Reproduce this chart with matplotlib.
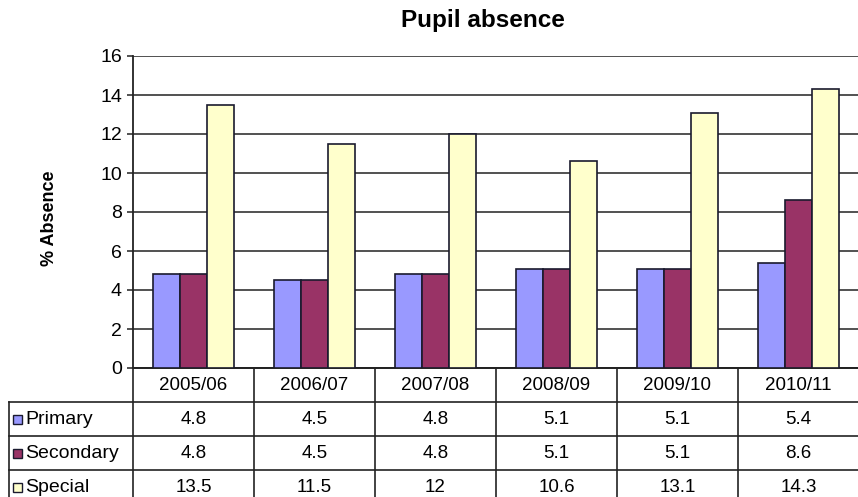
import matplotlib.pyplot as plt
import matplotlib.transforms as mtransforms
from matplotlib.patches import Rectangle
import numpy as np

plt.rcParams["font.family"] = ["Liberation Sans", "DejaVu Sans"]

years = ["2005/06", "2006/07", "2007/08", "2008/09", "2009/10", "2010/11"]
primary = [4.8, 4.5, 4.8, 5.1, 5.1, 5.4]
secondary = [4.8, 4.5, 4.8, 5.1, 5.1, 8.6]
special = [13.5, 11.5, 12, 10.6, 13.1, 14.3]
series_names = ["Primary", "Secondary", "Special"]
colors = ["#9999FF", "#993366", "#FFFFCC"]

W, H = 858, 497
fig = plt.figure(figsize=(W / 100, H / 100), dpi=100)
ax = fig.add_axes([133 / W, 1 - 368 / H, 726 / W, 312 / H])

x = np.arange(len(years))
bw = 0.223
for i, (vals, c) in enumerate(zip([primary, secondary, special], colors)):
    ax.bar(x + (i - 1) * bw, vals, bw, color=c, edgecolor="#1a1a2e",
           linewidth=1.2, zorder=3)

ax.set_xlim(-0.5, 5.5)
ax.set_ylim(0, 16)
ax.set_yticks(range(0, 17, 2))
ax.set_xticks([])
ax.yaxis.grid(True, color="#222222", linewidth=1.1, zorder=0)
ax.tick_params(axis="y", labelsize=14, length=4, width=1.1, color="#222222", pad=4)
for s in ["top", "right"]:
    ax.spines[s].set_visible(False)
for s in ["left", "bottom"]:
    ax.spines[s].set_linewidth(1.3)
    ax.spines[s].set_color("#222222")

fig.text(483 / W, 1 - 21 / H, "Pupil absence", ha="center", va="center",
         fontsize=17.5, fontweight="bold")
fig.text(50 / W, 1 - 218 / H, "% Absence", ha="center", va="center",
         rotation=90, fontsize=13, fontweight="bold")

# data table under the plot
trans = mtransforms.blended_transform_factory(ax.transData, ax.transAxes)
row_h = 34 / 312
left_x = -0.5 - 124 / 121
line_kw = dict(color="#222222", linewidth=1.2, transform=trans, clip_on=False)

ax.plot([-0.5, 5.6], [0, 0], **line_kw)
for r in range(1, 5):
    ax.plot([left_x, 5.6], [-r * row_h, -r * row_h], **line_kw)
ax.plot([left_x, left_x], [-row_h, -4 * row_h], **line_kw)
for k in range(len(years)):
    ax.plot([k - 0.5, k - 0.5], [0, -4 * row_h], **line_kw)

for k, yr in enumerate(years):
    ax.text(k, -0.5 * row_h, yr, ha="center", va="center", fontsize=13.5,
            transform=trans, clip_on=False)

for r, (name, vals, c) in enumerate(zip(series_names,
                                        [primary, secondary, special], colors)):
    yc = -(r + 1.5) * row_h
    ax.add_patch(Rectangle((left_x + 4 / 121, yc - 4.5 / 312), 9 / 121, 9 / 312,
                           facecolor=c, edgecolor="#1a1a2e", linewidth=1.0,
                           transform=trans, clip_on=False))
    ax.text(left_x + 16 / 121, yc, name, ha="left", va="center", fontsize=14,
            transform=trans, clip_on=False)
    for k, v in enumerate(vals):
        ax.text(k, yc, f"{v:g}", ha="center", va="center", fontsize=13.5,
                transform=trans, clip_on=False)

fig.savefig("out.png", dpi=100)
